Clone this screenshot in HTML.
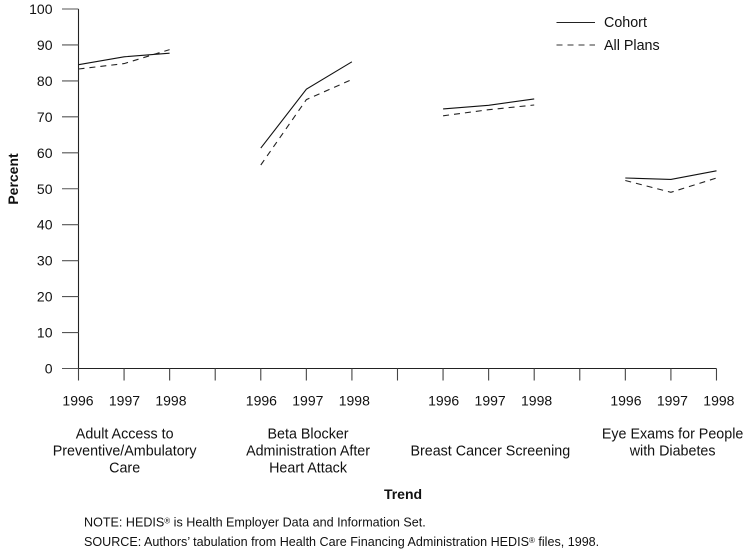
<!DOCTYPE html>
<html>
<head>
<meta charset="utf-8">
<style>
html,body{margin:0;padding:0;background:#fff;}
svg{display:block;}
text{font-family:"Liberation Sans",Arial,sans-serif;fill:#111;}
</style>
</head>
<body>
<svg id="chart" width="743" height="552" viewBox="0 0 743 552" xmlns="http://www.w3.org/2000/svg"></svg>
<script>
const yTicks = [0,10,20,30,40,50,60,70,80,90,100];
const years = ["1996","1997","1998"];
const categories = [
  ["Adult Access to","Preventive/Ambulatory","Care"],
  ["Beta Blocker","Administration After","Heart Attack"],
  ["Breast Cancer Screening"],
  ["Eye Exams for People","with Diabetes"]
];
const cohort = [[84.5,86.7,87.7],[61.3,77.7,85.3],[72.2,73.2,75.0],[53.0,52.6,55.0]];
const allPlans = [[83.3,84.8,88.7],[56.6,74.8,80.4],[70.3,72.0,73.3],[52.3,49.0,53.0]];

const svg = document.getElementById('chart');
const NS = 'http://www.w3.org/2000/svg';
const X0 = 78.5, XSTEP = 45.57, Y0 = 368.5, Y100 = 9;
function xPos(group, yearIdx){ return X0 + XSTEP * (group * 4 + yearIdx); }
function yPos(v){ return Y0 - (Y0 - Y100) * v / 100; }
function yearNudge(group, yearIdx){ return (group === 0 ? -0.5 : 0.6) + yearIdx * 0.9; }
function categoryNudge(group){ return group === 0 ? 0.6 : 1.7; }
function make(tag, attrs, txt){
  const el = document.createElementNS(NS, tag);
  for (const k in attrs) el.setAttribute(k, attrs[k]);
  if (txt !== undefined) el.textContent = txt;
  svg.appendChild(el);
  return el;
}
function line(x1,y1,x2,y2,stroke,w){
  return make('line',{x1:x1,y1:y1,x2:x2,y2:y2,stroke:stroke,'stroke-width':w});
}

// Y axis and ticks
let el = line(X0,Y100,X0,Y0,'#222',1.1);


yTicks.forEach(function(t){
  const tk = line(62,yPos(t),X0,yPos(t),'#555',1.1);
  
  
  const lb = make('text',{x:52.5,y:yPos(t)+5,'text-anchor':'end','font-size':14},String(t));
  
  
});

// X axis and ticks
const lastTick = categories.length * 4 - 2;
el = line(X0,Y0,xPos(0,lastTick),Y0,'#222',1.1);


for (let i = 0; i <= lastTick; i++){
  const tk = line(xPos(0,i),Y0,xPos(0,i),380.5,'#444',1.1);
  
  
}

// Year and category labels
categories.forEach(function(lines,g){
  years.forEach(function(yr,i){
    const lb = make('text',{x:xPos(g,i)+yearNudge(g,i),y:405.5,'text-anchor':'middle','font-size':14},yr);
    
    
  });
  const cx = xPos(g,1) + categoryNudge(g);
  lines.forEach(function(t,j){
    const row = lines.length === 1 ? 1 : j;
    const lb = make('text',{x:cx,y:438.5+row*17,'text-anchor':'middle','font-size':14.3},t);
    
    
  });
});

// Series
function drawSeries(series,name,dash,color){
  series.forEach(function(vals,g){
    const pts = vals.map(function(v,i){ return xPos(g,i).toFixed(1)+','+yPos(v).toFixed(1); }).join(' ');
    const attrs = {points:pts,fill:'none',stroke:color,'stroke-width':1.1};
    if (dash) attrs['stroke-dasharray'] = dash;
    const pl = make('polyline',attrs);
    
    
  });
}
drawSeries(cohort,'cohort-line',null,'#111');
drawSeries(allPlans,'all-plans-line','6 5','#222');

// Legend
el = line(556.5,22.5,595,22.5,'#222',1.1);


el = make('text',{x:604,y:27,'font-size':14.3},'Cohort');


el = line(556.5,45,595,45,'#333',1.1);
el.setAttribute('stroke-dasharray','6 5');


el = make('text',{x:604,y:50,'font-size':14.3},'All Plans');



// Axis titles
el = make('text',{x:0,y:0,'text-anchor':'middle','font-size':14,'font-weight':'bold',transform:'translate(18 179) rotate(-90)'},'Percent');


el = make('text',{x:403,y:499,'text-anchor':'middle','font-size':14,'font-weight':'bold'},'Trend');



// Notes
function note(y,name,parts){
  const t = make('text',{x:84,y:y,'font-size':12.57});
  
  
  parts.forEach(function(p,i){
    const s = document.createElementNS(NS,'tspan');
    s.textContent = p;
    if (p === '®'){ s.setAttribute('font-size','8'); s.setAttribute('dy','-3'); }
    else if (i > 0){ s.setAttribute('dy','3'); }
    t.appendChild(s);
  });
}
note(526.5,'note-text',['NOTE: HEDIS','®',' is Health Employer Data and Information Set.']);
note(546,'source-text',['SOURCE: Authors’ tabulation from Health Care Financing Administration HEDIS','®',' files, 1998.']);
</script>
</body>
</html>
